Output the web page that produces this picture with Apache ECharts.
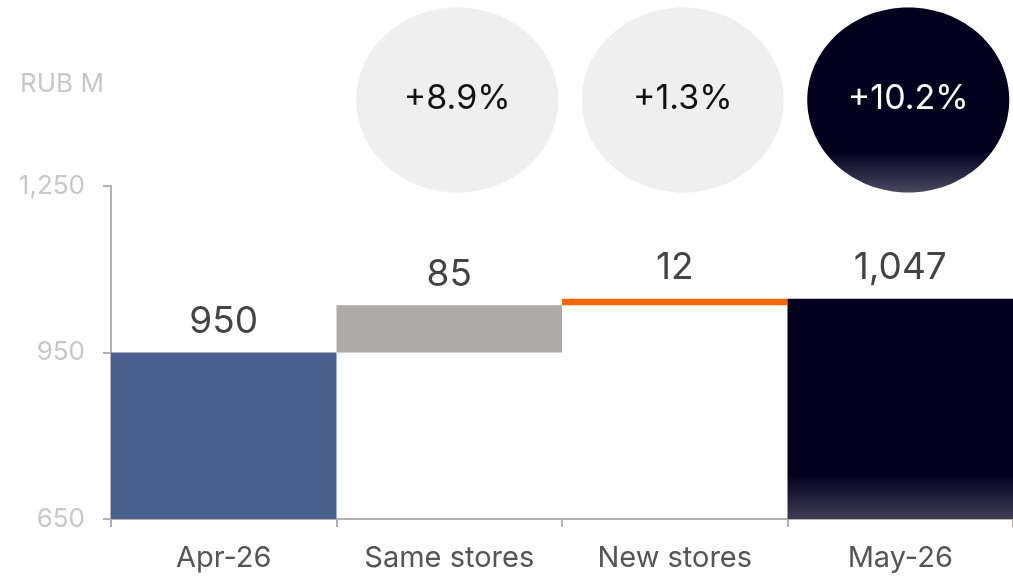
<!DOCTYPE html>
<html>
<head>
<meta charset="utf-8">
<script src="https://cdn.jsdelivr.net/npm/echarts@6/dist/echarts.min.js"></script>
<style>
html,body{margin:0;padding:0;background:#fff;}
#c{width:1013px;height:576px;}
</style>
</head>
<body>
<div id="c"></div>
<script>
const categories = ['Apr-26', 'Same stores', 'New stores', 'May-26'];
const values = [950, 85, 12, 1047];
const isTotal = [true, false, false, true];
const pctLabels = ['+8.9%', '+1.3%', '+10.2%'];
const pctCategories = ['Same stores', 'New stores', 'May-26'];
const yTicks = [650, 950, 1250];
const unitLabel = 'RUB M';

const FONT = 'Inter, "Noto Sans", sans-serif';
const barColors = ['#4a6190', '#aeaaa9', '#ff6600', {
  type: 'linear', x: 0, y: 0, x2: 0, y2: 1,
  colorStops: [{offset: 0, color: '#03001e'}, {offset: 0.8, color: '#03001e'}, {offset: 1, color: '#403d55'}]
}];

// waterfall bases
const bases = [];
let run = 0;
values.forEach((v, i) => {
  if (isTotal[i]) { bases.push(0); run = v; }
  else { bases.push(run); run += v; }
});

const chart = echarts.init(document.getElementById('c'), null, {renderer: 'canvas'});

chart.setOption({
  animation: false,
  grid: {left: 111, right: -4, top: 186, bottom: 57},
  xAxis: {
    type: 'category',
    data: categories,
    axisLine: {lineStyle: {color: '#b5b1b1', width: 2}},
    axisTick: {show: true, interval: 0, length: 8, lineStyle: {color: '#b5b1b1', width: 2}},
    axisLabel: {color: '#555555', fontSize: 29, fontFamily: FONT, margin: 25,
      interval: 0, hideOverlap: false}
  },
  yAxis: {
    type: 'value',
    min: yTicks[0], max: yTicks[yTicks.length - 1], interval: yTicks[1] - yTicks[0],
    axisLine: {show: true, lineStyle: {color: '#b5b1b1', width: 2}},
    axisTick: {show: true, length: 8, lineStyle: {color: '#b5b1b1', width: 2}},
    splitLine: {show: false},
    axisLabel: {color: '#c8c8c8', fontSize: 26, fontFamily: FONT, margin: 26,
      formatter: v => v.toLocaleString('en-US')}
  },
  series: [
    {
      type: 'bar', stack: 'w', barCategoryGap: 0,
      itemStyle: {color: 'transparent'},
      data: bases, silent: true
    },
    {
      type: 'bar', stack: 'w', barCategoryGap: 0,
      data: values.map((v, i) => ({value: v, itemStyle: {color: barColors[i]}})),
      label: {
        show: true, position: 'top', distance: 12,
        color: '#444444', fontSize: 37, fontFamily: FONT,
        formatter: p => p.value.toLocaleString('en-US')
      }
    }
  ]
});

const graphics = [{
  type: 'text', x: 20, y: 84,
  style: {text: unitLabel, fill: '#c8c8c8', font: '26px ' + FONT, textVerticalAlign: 'middle'}
}];
pctCategories.forEach((c, i) => {
  const cx = chart.convertToPixel({xAxisIndex: 0}, c) + 8;
  const dark = i === pctCategories.length - 1;
  graphics.push({
    type: 'ellipse',
    shape: {cx: cx, cy: 100, rx: 101, ry: 92.5},
    style: {fill: dark ? {
      type: 'linear', x: 0, y: 0, x2: 0, y2: 1,
      colorStops: [{offset: 0, color: '#03001e'}, {offset: 0.78, color: '#03001e'}, {offset: 1, color: '#4a4760'}]
    } : '#efefef'},
    z: 10
  });
  graphics.push({
    type: 'text', x: cx, y: 99,
    style: {text: pctLabels[i], fill: dark ? '#ffffff' : '#111111',
      font: '34px ' + FONT, textAlign: 'center', textVerticalAlign: 'middle'},
    z: 11
  });
});
chart.setOption({graphic: graphics});
</script>
</body>
</html>
